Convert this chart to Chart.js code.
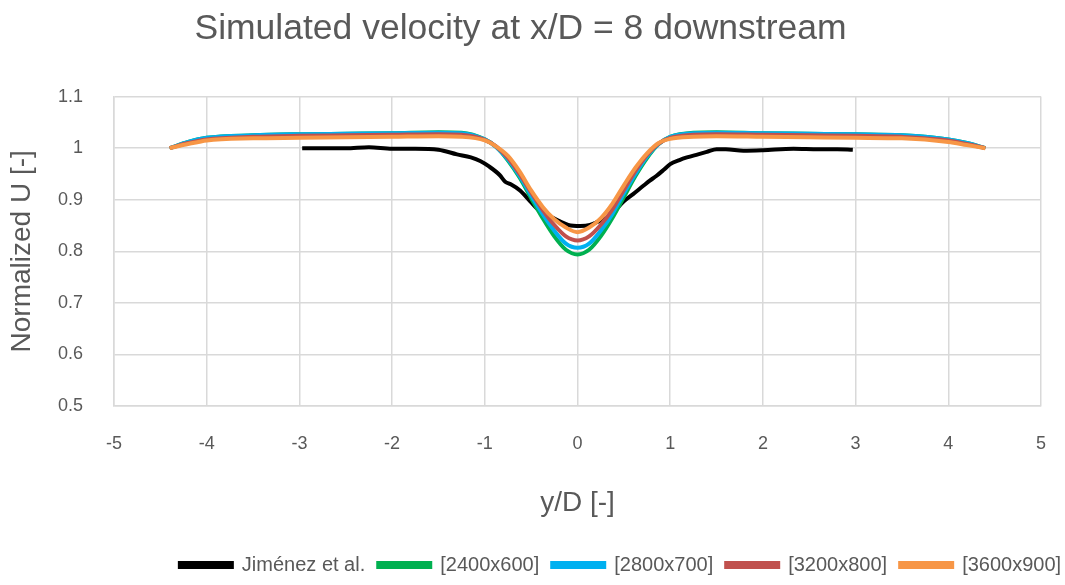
<!DOCTYPE html>
<html>
<head>
<meta charset="utf-8">
<script src="https://cdn.jsdelivr.net/npm/chart.js@4/dist/chart.umd.min.js"></script>
<style>
  html, body { margin: 0; padding: 0; background: #fff; overflow: hidden; }
  canvas { display: block; }
</style>
</head>
<body>
<canvas id="chart" width="1065" height="585"></canvas>
<script>
// valores
const seriesLabels = ['Jiménez et al.', '[2400x600]', '[2800x700]', '[3200x800]', '[3600x900]'];
const seriesColors = ['#000000', '#00b050', '#00b0f0', '#c0504d', '#f79646'];

const expX = [-2.97, -2.75, -2.5, -2.25, -2.0, -1.75, -1.5, -1.3, -1.15, -1.05, -0.95, -0.84, -0.78, -0.72, -0.62, -0.51, -0.4, -0.3, -0.19, -0.1, 0.03, 0.135, 0.25, 0.35, 0.42, 0.5, 0.6, 0.71, 0.78, 0.85, 0.93, 1.0, 1.1, 1.18, 1.3, 1.4, 1.5, 1.6, 1.79, 2.0, 2.33, 2.6, 2.8, 2.97];
const expU = [1.0, 1.0, 1.0, 1.002, 0.999, 0.999, 0.997, 0.988, 0.982, 0.975, 0.964, 0.948, 0.935, 0.930, 0.918, 0.897, 0.877, 0.868, 0.858, 0.851, 0.849, 0.851, 0.860, 0.868, 0.882, 0.897, 0.911, 0.927, 0.937, 0.946, 0.958, 0.969, 0.977, 0.982, 0.988, 0.993, 0.998, 0.998, 0.995, 0.996, 0.999, 0.998, 0.998, 0.997];

const simX = [-4.4, -4.2, -4, -3.5, -3, -2.5, -2, -1.5, -1.25, -1, -0.875, -0.75, -0.625, -0.5, -0.375, -0.25, -0.125, 0, 0.125, 0.25, 0.375, 0.5, 0.625, 0.75, 0.875, 1, 1.25, 1.5, 2, 2.5, 3, 3.5, 4, 4.2, 4.4];
const u2400 = [1.000, 1.012, 1.020, 1.025, 1.027, 1.028, 1.029, 1.031, 1.030, 1.017, 1.002, 0.976, 0.943, 0.903, 0.864, 0.829, 0.803, 0.794, 0.803, 0.829, 0.864, 0.905, 0.946, 0.981, 1.008, 1.022, 1.030, 1.031, 1.029, 1.028, 1.027, 1.025, 1.017, 1.010, 1.000];
const u2800 = [1.000, 1.012, 1.020, 1.025, 1.027, 1.028, 1.029, 1.030, 1.029, 1.017, 1.002, 0.978, 0.946, 0.908, 0.872, 0.840, 0.815, 0.807, 0.815, 0.840, 0.872, 0.912, 0.950, 0.984, 1.008, 1.022, 1.029, 1.030, 1.029, 1.028, 1.027, 1.025, 1.017, 1.010, 1.000];
const u3200 = [1.000, 1.010, 1.017, 1.022, 1.024, 1.025, 1.026, 1.027, 1.026, 1.016, 1.003, 0.981, 0.950, 0.914, 0.880, 0.851, 0.829, 0.821, 0.829, 0.851, 0.881, 0.919, 0.956, 0.987, 1.009, 1.020, 1.026, 1.027, 1.026, 1.025, 1.024, 1.022, 1.015, 1.008, 1.000];
const u3600 = [1.000, 1.008, 1.015, 1.019, 1.020, 1.021, 1.022, 1.023, 1.022, 1.015, 1.003, 0.985, 0.955, 0.918, 0.886, 0.862, 0.846, 0.837, 0.846, 0.864, 0.892, 0.928, 0.962, 0.990, 1.010, 1.018, 1.022, 1.023, 1.022, 1.021, 1.020, 1.019, 1.012, 1.006, 1.000];

const xTicks = [-5, -4, -3, -2, -1, 0, 1, 2, 3, 4, 5];
const yTicks = [0.5, 0.6, 0.7, 0.8, 0.9, 1.0, 1.1];

const FONT = "'Liberation Sans', Arial, sans-serif";
const TXT = '#595959';
const GRID = '#d9d9d9';

const toPoints = (xs, ys) => xs.map((x, i) => ({ x: x, y: ys[i] }));
const allSeries = [toPoints(expX, expU), toPoints(simX, u2400), toPoints(simX, u2800), toPoints(simX, u3200), toPoints(simX, u3600)];

const datasets = allSeries.map((pts, i) => ({
    label: seriesLabels[i],
    data: pts,
    borderColor: seriesColors[i],
    backgroundColor: seriesColors[i],
    borderWidth: 4,
    pointRadius: 0,
    showLine: true,
    cubicInterpolationMode: 'monotone',
    order: seriesLabels.length - i   // a última série fica por cima, como no Excel
}));

// no Excel a legenda fica deslocada para a direita
const legendShift = {
    id: 'legendShift',
    afterLayout(chart) {
        const lg = chart.legend;
        if (!lg) return;
        lg.left += 100;
        lg.right += 100;
    }
};

new Chart(document.getElementById('chart'), {
    type: 'scatter',
    data: { datasets },
    plugins: [legendShift],
    options: {
        responsive: false,
        animation: false,
        layout: { padding: { left: 0, right: 24, top: 0, bottom: 0 } },
        plugins: {
            title: {
                display: true,
                text: 'Simulated velocity at x/D = 8 downstream',
                color: TXT,
                font: { family: FONT, size: 35.5, weight: 'normal' },
                padding: { top: 8, bottom: 46 }
            },
            legend: {
                position: 'bottom',
                labels: {
                    color: TXT,
                    font: { family: FONT, size: 20 },
                    boxWidth: 52,
                    boxHeight: 4,
                    padding: 13,
                    // mantém a ordem original das séries
                    sort: (a, b) => a.datasetIndex - b.datasetIndex
                }
            },
            tooltip: { enabled: false }
        },
        scales: {
            x: {
                type: 'linear',
                min: -5,
                max: 5,
                afterBuildTicks: (s) => { s.ticks = xTicks.map(v => ({ value: v })); },
                afterFit: (s) => { s.height = 136; s.paddingLeft = 0; s.paddingRight = 0; },
                ticks: { color: TXT, font: { family: FONT, size: 18 }, padding: 27 },
                grid: { color: GRID, lineWidth: 1.5, drawTicks: false },
                border: { color: GRID, width: 1.5 },
                title: {
                    display: true,
                    text: 'y/D [-]',
                    color: TXT,
                    font: { family: FONT, size: 28 },
                    padding: { top: 0, bottom: 22 }
                }
            },
            y: {
                type: 'linear',
                min: 0.5,
                max: 1.1,
                afterBuildTicks: (s) => { s.ticks = yTicks.map(v => ({ value: v })); },
                afterFit: (s) => { s.width = 114; s.paddingTop = 0; s.paddingBottom = 0; },
                ticks: {
                    color: TXT,
                    font: { family: FONT, size: 18 },
                    padding: 31,
                    callback: (v) => String(+v.toFixed(1))
                },
                grid: { color: GRID, lineWidth: 1.5, drawTicks: false },
                border: { color: GRID, width: 1.5 },
                title: {
                    display: true,
                    text: 'Normalized U [-]',
                    color: TXT,
                    font: { family: FONT, size: 28 },
                    padding: { top: 5, bottom: 0 }
                }
            }
        }
    }
});
</script>
</body>
</html>
